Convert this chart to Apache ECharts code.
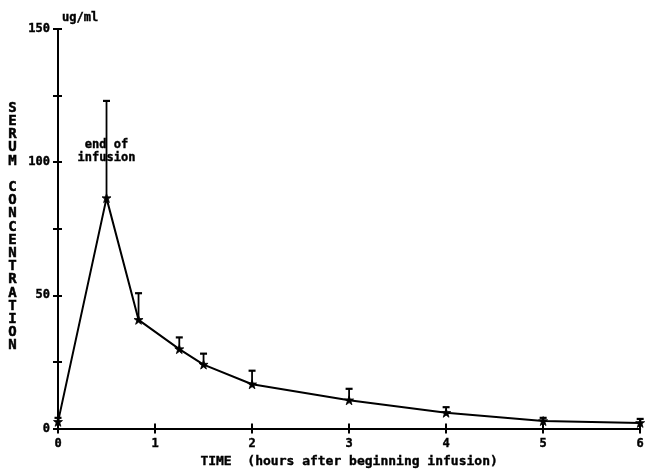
<!DOCTYPE html>
<html>
<head>
<meta charset="utf-8">
<script src="https://cdn.jsdelivr.net/npm/echarts@6/dist/echarts.min.js"></script>
<style>html,body{margin:0;padding:0;background:#fff;}#c{width:647px;height:473px;}</style>
</head>
<body>
<div id="c"></div>
<script>
// Data
const times = [0, 0.5, 0.83, 1.25, 1.5, 2, 3, 4, 5, 6];
const meanConc = [2.5, 86.5, 40.8, 29.8, 24.0, 16.6, 10.6, 5.9, 2.8, 2.1];
const upperConc = [4.0, 123, 50.8, 34.2, 28.1, 21.7, 14.9, 8.0, 4.0, 3.6];
const yTicks = [0, 50, 100, 150];
const xTicks = [0, 1, 2, 3, 4, 5, 6];

const FONT = '"DejaVu Sans Mono", "Liberation Mono", monospace';
const chart = echarts.init(document.getElementById('c'), null, {renderer: 'canvas'});

const linePts = times.map((t, i) => [t, meanConc[i]]);
const errPts = times.map((t, i) => [t, meanConc[i], upperConc[i]]);

const bold = {color: '#000', fontFamily: FONT, fontWeight: 'bold', textBorderColor: '#000', textBorderWidth: 0.4};

const axisCommon = {
  min: 0,
  axisLine: {show: true, lineStyle: {color: '#000', width: 2}},
  splitLine: {show: false}
};

chart.setOption({
  animation: false,
  backgroundColor: '#fff',
  grid: {left: 58, right: 4, top: 29, bottom: 39, containLabel: false},
  xAxis: [
    Object.assign({}, axisCommon, {
      type: 'value', max: 6, interval: 1, position: 'bottom',
      axisTick: {show: true, length: 5, lineStyle: {color: '#000', width: 2}},
      axisLabel: Object.assign({fontSize: 12, margin: 9,
        formatter: v => xTicks.includes(v) ? String(v) : ''}, bold),
      name: 'TIME  (hours after beginning infusion)',
      nameLocation: 'middle', nameGap: 26,
      nameTextStyle: Object.assign({fontSize: 13}, bold)
    }),
    Object.assign({}, axisCommon, {
      type: 'value', max: 6, interval: 1, position: 'bottom',
      axisLine: {show: false},
      axisTick: {show: true, inside: true, length: 5, lineStyle: {color: '#000', width: 2}},
      axisLabel: {show: false}
    })
  ],
  yAxis: [
    Object.assign({}, axisCommon, {
      type: 'value', max: 150, interval: 25, position: 'left',
      axisTick: {show: true, length: 5, lineStyle: {color: '#000', width: 2}},
      axisLabel: Object.assign({fontSize: 12, margin: 8,
        formatter: v => yTicks.includes(v) ? String(v) : ''}, bold),
      name: 'ug/ml', nameLocation: 'end', nameGap: 5,
      nameTextStyle: Object.assign({fontSize: 12, align: 'left', padding: [0, 0, 0, 4]}, bold)
    }),
    Object.assign({}, axisCommon, {
      type: 'value', max: 150, interval: 25, position: 'left',
      axisLine: {show: false},
      axisTick: {show: true, inside: true, length: 4, lineStyle: {color: '#000', width: 2}},
      axisLabel: {show: false}
    })
  ],
  graphic: [{
    type: 'text', left: 8, top: 101,
    style: {
      text: 'S\nE\nR\nU\nM\n\nC\nO\nN\nC\nE\nN\nT\nR\nA\nT\nI\nO\nN',
      fill: '#000', font: 'bold 14px ' + FONT, lineHeight: 13.2, align: 'center',
      stroke: '#000', lineWidth: 0.5
    }
  }],
  series: [
    {
      type: 'custom', xAxisIndex: 0, yAxisIndex: 0, z: 3,
      data: errPts,
      renderItem: function (params, api) {
        const lo = api.coord([api.value(0), api.value(1)]);
        const hi = api.coord([api.value(0), api.value(2)]);
        return {type: 'group', children: [
          {type: 'line', shape: {x1: lo[0], y1: lo[1], x2: hi[0], y2: hi[1]}, style: {stroke: '#000', lineWidth: 1.8}},
          {type: 'line', shape: {x1: hi[0] - 3.5, y1: hi[1], x2: hi[0] + 3.5, y2: hi[1]}, style: {stroke: '#000', lineWidth: 2.2}}
        ]};
      }
    },
    {
      type: 'line', xAxisIndex: 0, yAxisIndex: 0, z: 4,
      data: linePts,
      symbol: 'path://M5,0L6.2,3.6L10,3.6L7,6L8.2,10L5,7.6L1.8,10L3,6L0,3.6L3.8,3.6Z',
      symbolSize: 9,
      lineStyle: {color: '#000', width: 2},
      itemStyle: {color: '#000', borderColor: '#000', borderWidth: 0.8},
      markPoint: {
        symbol: 'circle', symbolSize: 0,
        data: [{coord: [0.5, 104]}],
        label: Object.assign({show: true, position: 'inside', formatter: 'end of\ninfusion',
          fontSize: 12, lineHeight: 13}, bold)
      }
    }
  ]
});
</script>
</body>
</html>
